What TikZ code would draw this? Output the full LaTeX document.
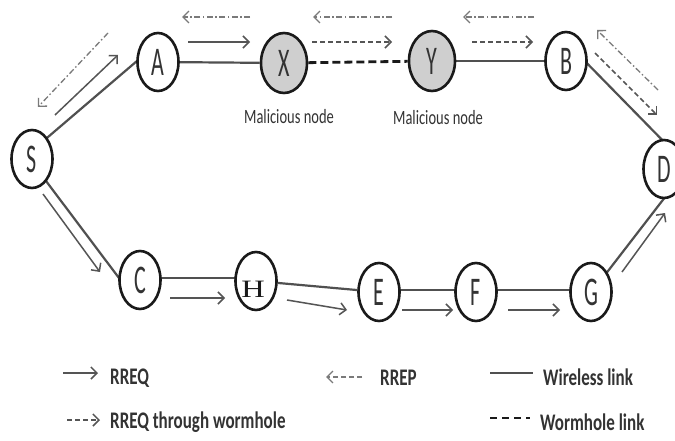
\documentclass[tikz,border=0pt]{standalone}
\usepackage{fontspec}
\setmainfont{Carlito}
\newfontfamily\serifH{Liberation Serif}
\usetikzlibrary{arrows.meta,shapes.geometric,backgrounds}

\definecolor{ink}{HTML}{1A1A1A}
\definecolor{linkgray}{HTML}{505050}
\definecolor{arrgray}{HTML}{555555}
\definecolor{repgray}{HTML}{7A7A7A}
\definecolor{malfill}{HTML}{CFCFCF}
\definecolor{txtgray}{HTML}{333333}

\newcommand\tall[1]{\scalebox{1}[1.85]{#1}}
\newcommand\lift[1]{\scalebox{1}[1.4]{#1}}

\tikzset{
  hop/.style={ellipse, draw=ink, line width=2.6pt, fill=white,
    minimum width=41pt, minimum height=58pt, inner sep=0pt,
    font=\fontsize{22}{22}\selectfont, text=txtgray},
  evil/.style={hop, fill=malfill, minimum width=46pt, minimum height=60pt},
  wireless/.style={draw=linkgray, line width=2.2pt},
  tunnel/.style={draw=ink, line width=2.8pt, dash pattern=on 8pt off 4pt},
  rreq/.style={draw=arrgray, line width=1.5pt,
    -{Straight Barb[length=6pt,width=12pt]}},
  rreqw/.style={rreq, dash pattern=on 5pt off 3pt},
  rrep/.style={draw=repgray, line width=1.3pt,
    dash pattern=on 6pt off 2.5pt on 1.5pt off 2.5pt,
    -{Straight Barb[length=6pt,width=12pt]}},
  rrepkey/.style={rrep, dash pattern=on 5pt off 3pt},
  note/.style={font=\fontsize{14.5}{15}\selectfont, text=txtgray},
  key/.style={font=\bfseries\fontsize{17}{18}\selectfont, text=txtgray,
    anchor=west, inner sep=0pt},
}

\begin{document}
\begin{tikzpicture}[x=1pt,y=-1pt]
\useasboundingbox (0,0) rectangle (675,441);
\begin{scope}[on background layer]
  \fill[white] (0,0) rectangle (675,441);
\end{scope}

% network nodes
\node[hop]  (S) at (32,159)  {\tall{S}};
\node[hop]  (A) at (158,62)  {\tall{A}};
\node[evil] (X) at (284,63)  {\tall{X}};
\node[evil] (Y) at (432,61)  {\tall{Y}};
\node[hop]  (B) at (566,61)  {\tall{B}};
\node[hop]  (D) at (664,169) {\tall{D}};
\node[hop]  (C) at (140,280) {\tall{C}};
\node[hop]  (H) at (256,281) {};
\node[inner sep=0pt, text=ink, font=\serifH\fontsize{25}{25}\selectfont]
  (Hname) at (253,289) {\scalebox{1.3}[1]{H}};
\node[hop]  (E) at (379,292) {\tall{E}};
\node[hop]  (F) at (476,292) {\tall{F}};
\node[hop]  (G) at (591,292) {\tall{G}};

\node[note] (xnote) at (289,117) {\lift{Malicious node}};
\node[note] (ynote) at (438,118) {\lift{Malicious node}};

% links, kept behind the nodes
\begin{scope}[on background layer]
  \draw[wireless] ([shift={(9,-16)}]S.center) -- ([shift={(-14,-7)}]A.center);
  \draw[wireless] (A) -- (X);
  \draw[tunnel] (X) -- (Y);
  \draw[wireless] (Y) -- (B);
  \draw[wireless] ([shift={(8,-11)}]B.center) -- ([shift={(8,-19)}]D.center);
  \draw[wireless] ([shift={(11,18)}]S.center) -- ([shift={(-12,10)}]C.center);
  \draw[wireless] ([shift={(0,-2)}]C.center) -- ([shift={(0,-3)}]H.center);
  \draw[wireless] (H) -- (E);
  \draw[wireless] ([shift={(0,-2)}]E.center) -- ([shift={(0,-2)}]F.center);
  \draw[wireless] ([shift={(0,-2)}]F.center) -- ([shift={(0,-2)}]G.center);
  \draw[wireless] ([shift={(7,-8)}]G.center) -- ([shift={(5,23)}]D.center);
\end{scope}

% route request / reply messages
\draw[rreq]  ([shift={(23,-44)}]S.center) -- ([shift={(-40,-7)}]A.center);
\draw[rrep]  ([shift={(-50,-29)}]A.center) -- ([shift={(6,-52)}]S.center);
\draw[rreq]  ([shift={(30,-20)}]A.center) -- ([shift={(-34,-21)}]X.center);
\draw[rrep]  ([shift={(-34,-46)}]X.center) -- ([shift={(24,-45)}]A.center);
\draw[rreqw] ([shift={(28,-21)}]X.center) -- ([shift={(-40,-19)}]Y.center);
\draw[rrep]  ([shift={(-40,-44)}]Y.center) -- ([shift={(29,-46)}]X.center);
\draw[rreqw] ([shift={(40,-19)}]Y.center) -- ([shift={(-33,-19)}]B.center);
\draw[rrep]  ([shift={(-32,-44)}]B.center) -- ([shift={(31,-44)}]Y.center);
\draw[rreqw] ([shift={(29,-8)}]B.center) -- ([shift={(-7,-54)}]D.center);
\draw[rrep]  ([shift={(-6,-79)}]D.center) -- ([shift={(31,-31)}]B.center);

\draw[rreq] ([shift={(11,35)}]S.center) -- ([shift={(-40,-8)}]C.center);
\draw[rreq] ([shift={(30,18)}]C.center) -- ([shift={(-31,17)}]H.center);
\draw[rreq] ([shift={(31,19)}]H.center) -- ([shift={(-32,18)}]E.center);
\draw[rreq] ([shift={(23,18)}]E.center) -- ([shift={(-23,18)}]F.center);
\draw[rreq] ([shift={(32,18)}]F.center) -- ([shift={(-31,18)}]G.center);
\draw[rreq] ([shift={(31,-20)}]G.center) -- ([shift={(1,44)}]D.center);

% legend
\coordinate (k1a) at (63,373);  \coordinate (k1b) at (98,373);
\coordinate (k2a) at (67,420);  \coordinate (k2b) at (100,420);
\coordinate (k3a) at (362,377); \coordinate (k3b) at (326,377);
\coordinate (k4a) at (490,373); \coordinate (k4b) at (533,373);
\coordinate (k5a) at (490,418); \coordinate (k5b) at (530,418);

\draw[rreq] (k1a) -- (k1b);
\node[key] (k1) at (110,378) {\lift{RREQ}};
\draw[rreqw] (k2a) -- (k2b);
\node[key] (k2) at (110,422) {\lift{RREQ through wormhole}};
\draw[rrepkey] (k3a) -- (k3b);
\node[key] (k3) at (380,378) {\lift{RREP}};
\draw[wireless, line width=1.6pt] (k4a) -- (k4b);
\node[key] (k4) at (543,377) {\lift{Wireless link}};
\draw[tunnel, line width=2.2pt, dash pattern=on 7pt off 5pt] (k5a) -- (k5b);
\node[key] (k5) at (540,422) {\lift{Wormhole link}};
\end{tikzpicture}
\end{document}
